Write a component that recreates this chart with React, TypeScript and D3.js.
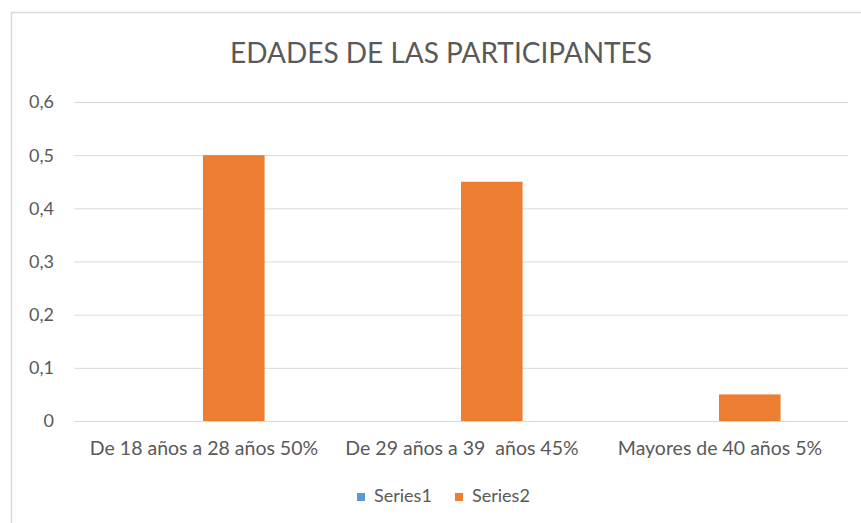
import React from "react";
import * as d3 from "d3";

const categories = ["De 18 años a 28 años 50%", "De 29 años a 39  años 45%", "Mayores de 40 años 5%"];
const seriesNames = ["Series1", "Series2"];
const series1 = [0, 0, 0];
const series2 = [0.5, 0.45, 0.05];
const yTicks = [0, 0.1, 0.2, 0.3, 0.4, 0.5, 0.6];
const title = "EDADES DE LAS PARTICIPANTES";

const colors = ["#5B9BD5", "#ED7D31"];
const FONT = "Lato, 'Open Sans', sans-serif";
const TEXT = "#595959";

export default function App() {
  const W = 861, H = 523;
  const left = 74, right = 848, top = 102, bottom = 421;
  const x = d3.scaleBand<string>().domain(categories).range([left, right]).paddingInner(0).paddingOuter(0);
  const y = d3.scaleLinear().domain([0, 0.6]).range([bottom, top]);
  const bw = x.bandwidth();
  const barW = bw / (2 + 2.19);
  const inner = d3.scaleBand<string>().domain(seriesNames).range([bw / 2 - barW, bw / 2 + barW]);
  const data = [series1, series2];
  const fmt = (v: number) => (v === 0 ? "0" : d3.format(".1f")(v).replace(".", ","));
  return (
    <div style={{ position: "fixed", left: 0, top: 0 }}>
      <svg width={W} height={H} style={{ display: "block", background: "#fff" }}>
        <rect x={11.5} y={12.5} width={870} height={530} fill="#fff" stroke="#d9d9d9" strokeWidth={1.5} />
        <text x={441} y={63} textAnchor="middle" fontFamily={FONT} fontSize={28} fill={TEXT}>{title}</text>
        {yTicks.map((t) => (
          <g key={t}>
            <line x1={left} x2={right} y1={y(t) + 0.5} y2={y(t) + 0.5} stroke="#d9d9d9" strokeWidth={1} />
            <text x={54} y={y(t)} dy="0.36em" textAnchor="end" fontFamily={FONT} fontSize={18} fill={TEXT}>{fmt(t)}</text>
          </g>
        ))}
        {data.map((s, si) =>
          s.map((v, ci) => (
            <rect
              key={si + "-" + ci}
              x={(x(categories[ci]) as number) + (inner(seriesNames[si]) as number)}
              y={y(v)}
              width={inner.bandwidth()}
              height={bottom - y(v)}
              fill={colors[si]}
            />
          ))
        )}
        {categories.map((c) => (
          <text key={c} x={(x(c) as number) + bw / 2 + 1} y={455} textAnchor="middle" fontFamily={FONT} fontSize={19.5} fill={TEXT} style={{ whiteSpace: "pre" }}>{c}</text>
        ))}
        {seriesNames.map((n, i) => {
          const lx = [357, 455][i];
          return (
            <g key={n}>
              <rect x={lx} y={493} width={8} height={8} fill={colors[i]} />
              <text x={lx + 17} y={502} fontFamily={FONT} fontSize={18} fill={TEXT}>{n}</text>
            </g>
          );
        })}
      </svg>
    </div>
  );
}
